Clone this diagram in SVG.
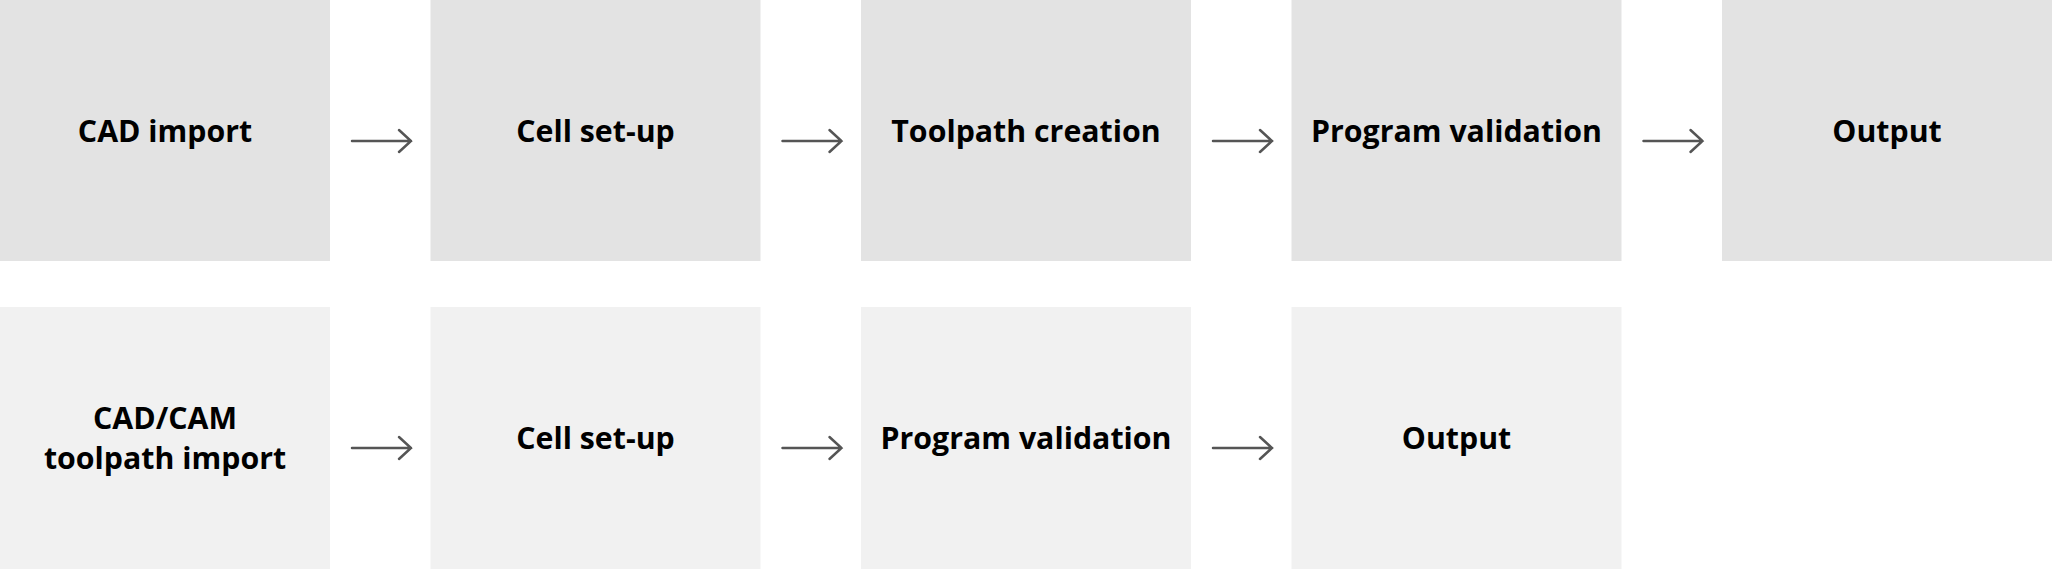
<svg xmlns="http://www.w3.org/2000/svg" width="2052" height="569" viewBox="0 0 2052 569">
<defs>
<style>
.r1{fill:#e3e3e3}
.r2{fill:#f1f1f1}
.t{font-family:"Open Sans","Noto Sans",sans-serif;font-weight:bold;font-size:30.3px;fill:#000;text-anchor:middle}
.c{stroke:#555;stroke-width:2.5;fill:none;stroke-linecap:round;stroke-linejoin:miter}
</style>
</defs>
<rect width="2052" height="569" fill="#fff"/>
<g id="n1"><rect class="r1" x="0" y="0" width="330" height="261"/><text class="t" x="165" y="142">CAD import</text></g>
<g id="n2"><rect class="r1" x="430.5" y="0" width="330" height="261"/><text class="t" x="595.5" y="142">Cell set-up</text></g>
<g id="n3"><rect class="r1" x="861" y="0" width="330" height="261"/><text class="t" x="1026" y="142">Toolpath creation</text></g>
<g id="n4"><rect class="r1" x="1291.5" y="0" width="330" height="261"/><text class="t" x="1456.5" y="142">Program validation</text></g>
<g id="n5"><rect class="r1" x="1722" y="0" width="330" height="261"/><text class="t" x="1887" y="142">Output</text></g>
<g id="m1"><rect class="r2" x="0" y="307" width="330" height="262"/><text class="t" x="165" y="429">CAD/CAM</text><text class="t" x="165" y="469">toolpath import</text></g>
<g id="m2"><rect class="r2" x="430.5" y="307" width="330" height="262"/><text class="t" x="595.5" y="449">Cell set-up</text></g>
<g id="m3"><rect class="r2" x="861" y="307" width="330" height="262"/><text class="t" x="1026" y="449">Program validation</text></g>
<g id="m4"><rect class="r2" x="1291.5" y="307" width="330" height="262"/><text class="t" x="1456.5" y="449">Output</text></g>
<g id="connectors">
<path class="c" d="M352,141H411M399,130L411,141L399,152"/>
<path class="c" d="M782.5,141H841.5M829.5,130L841.5,141L829.5,152"/>
<path class="c" d="M1213,141H1272M1260,130L1272,141L1260,152"/>
<path class="c" d="M1643.5,141H1702.5M1690.5,130L1702.5,141L1690.5,152"/>
<path class="c" d="M352,448H411M399,437L411,448L399,459"/>
<path class="c" d="M782.5,448H841.5M829.5,437L841.5,448L829.5,459"/>
<path class="c" d="M1213,448H1272M1260,437L1272,448L1260,459"/>
</g>
</svg>
